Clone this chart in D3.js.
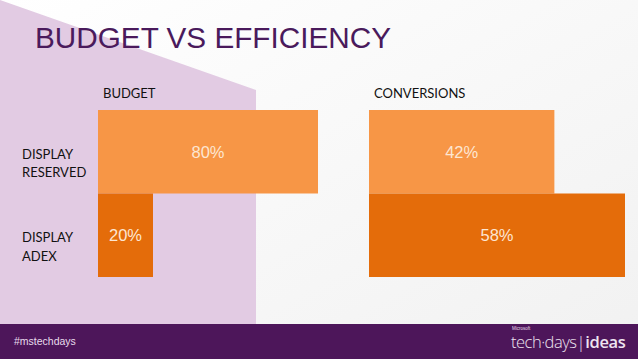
<!DOCTYPE html>
<html>
<head>
<meta charset="utf-8">
<script src="https://cdn.jsdelivr.net/npm/d3@7"></script>
<style>
  html, body { margin: 0; padding: 0; background: #ffffff; }
  svg { display: block; }
</style>
</head>
<body>
<svg id="chart" width="638" height="359"></svg>
<script>
// ---- data ----
const categories = ["DISPLAY RESERVED", "DISPLAY ADEX"];
const panelTitles = ["BUDGET", "CONVERSIONS"];
const budgetValues = [80, 20];
const conversionValues = [42, 58];
const title = "BUDGET VS EFFICIENCY";
const hashtag = "#mstechdays";

const W = 638, H = 359;
const svg = d3.select("#chart");

// background
const defs = svg.append("defs");
const bg = defs.append("linearGradient").attr("id", "bg").attr("x1", 0).attr("y1", 0).attr("x2", 1).attr("y2", 1);
bg.append("stop").attr("offset", "0%").attr("stop-color", "#ffffff");
bg.append("stop").attr("offset", "100%").attr("stop-color", "#f1f1f1");
svg.append("rect").attr("width", W).attr("height", H).attr("fill", "url(#bg)");

// light purple decorative shape
svg.append("path")
  .attr("d", "M0,0 L256,90 L256,324 L0,324 Z")
  .attr("fill", "#e2cbe3");

// footer band
svg.append("rect").attr("x", 0).attr("y", 324).attr("width", W).attr("height", H - 324).attr("fill", "#4d165a");

// title
svg.append("text")
  .attr("x", 35).attr("y", 48)
  .attr("font-family", "Liberation Sans, Arial, sans-serif")
  .attr("font-size", 29)
  .attr("fill", "#4a1a5c")
  .attr("textLength", 356)
  .attr("lengthAdjust", "spacingAndGlyphs")
  .text(title);

// scales
const y = d3.scaleBand().domain(categories).range([110, 277]).padding(0);
const xBudget = d3.scaleLinear().domain([0, 80]).range([98, 318]);
const xConv = d3.scaleLinear().domain([0, 58]).range([369, 625]);
const colors = d3.scaleOrdinal().domain(categories).range(["#f79646", "#e46c0a"]);

const labelFont = "Lato, 'Open Sans', sans-serif";

function panel(values, x, name) {
  const g = svg.append("g");
  g.append("text")
    .attr("x", x.range()[0] + 5).attr("y", 98)
    .attr("font-family", labelFont).attr("font-size", 13)
    .attr("fill", "#111")
    .text(name);
  const rows = g.selectAll("g.row").data(categories.map((c, i) => ({ c, v: values[i] })))
    .enter().append("g").attr("class", "row");
  rows.append("rect")
    .attr("x", x(0))
    .attr("y", d => y(d.c))
    .attr("width", d => x(d.v) - x(0))
    .attr("height", y.bandwidth())
    .attr("fill", d => colors(d.c));
  rows.append("text")
    .attr("x", d => (x(0) + x(d.v)) / 2)
    .attr("y", d => y(d.c) + y.bandwidth() / 2 + 6)
    .attr("text-anchor", "middle")
    .attr("font-family", "Liberation Sans, Arial, sans-serif")
    .attr("font-size", 16.5)
    .attr("fill", "#fde6d2")
    .text(d => d.v + "%");
}
panel(budgetValues, xBudget, panelTitles[0]);
panel(conversionValues, xConv, panelTitles[1]);

// category labels
const catG = svg.append("g");
categories.forEach(c => {
  const words = c.split(" ");
  const t = catG.append("text")
    .attr("x", 22)
    .attr("y", y(c) + y.bandwidth() / 2 + 7)
    .attr("font-family", labelFont).attr("font-size", 13)
    .attr("fill", "#111");
  words.forEach((w, i) => {
    t.append("tspan").attr("x", 22).attr("dy", i === 0 ? 0 : 18.5).text(w);
  });
});

// footer texts
svg.append("text")
  .attr("x", 14).attr("y", 345)
  .attr("font-family", "Liberation Sans, Arial, sans-serif")
  .attr("font-size", 10.5)
  .attr("fill", "#e8dcec")
  .text(hashtag);

svg.append("text")
  .attr("x", 512).attr("y", 330)
  .attr("font-family", "Liberation Sans, Arial, sans-serif")
  .attr("font-size", 4.5)
  .attr("fill", "#e8dcec")
  .text("Microsoft");
const logo = svg.append("text")
  .attr("x", 511).attr("y", 348)
  .attr("font-family", "'Open Sans', sans-serif")
  .attr("font-size", 16.5)
  .attr("fill", "#eee4f0");
logo.append("tspan").attr("font-weight", 300).attr("letter-spacing", -0.5).text("tech·days");
logo.append("tspan").attr("font-weight", 300).text("|");
logo.append("tspan").attr("font-weight", 600).attr("letter-spacing", -0.4).text("ideas");
</script>
</body>
</html>
